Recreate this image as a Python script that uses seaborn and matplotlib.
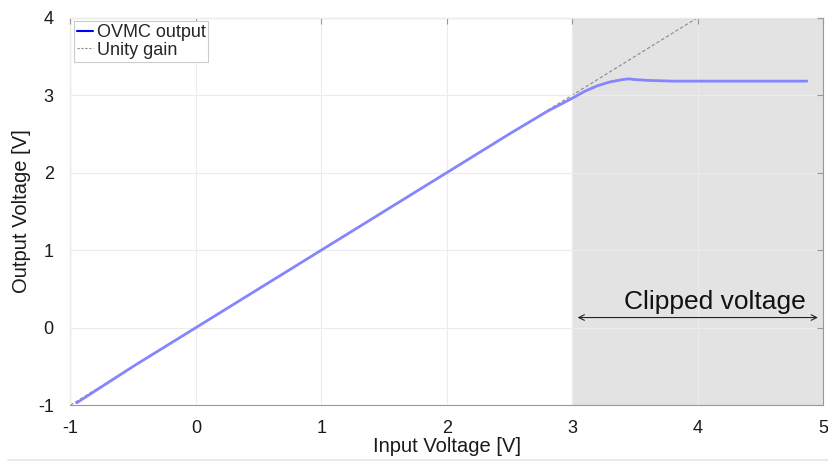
import matplotlib
matplotlib.use("Agg")
import matplotlib.pyplot as plt
import seaborn as sns
import pandas as pd
from matplotlib.lines import Line2D

# Data
vin = [-0.95, -0.5, 0.0, 0.5, 1.0, 1.5, 2.0, 2.5, 2.8, 3.0, 3.1, 3.2, 3.3, 3.4, 3.45, 3.5, 3.6, 3.8, 4.0, 4.5, 4.87]
vout = [-0.97, -0.5, 0.0, 0.5, 1.0, 1.5, 2.0, 2.5, 2.79, 2.96, 3.05, 3.12, 3.17, 3.2, 3.21, 3.2, 3.19, 3.18, 3.18, 3.18, 3.18]
unity_x = [-1.0, 4.0]
unity_y = [-1.0, 4.0]
clip_start, clip_end = 3.0, 5.0
xticks = [-1, 0, 1, 2, 3, 4, 5]
yticks = [-1, 0, 1, 2, 3, 4]

sns.set_style("white")
plt.rcParams['font.family'] = ['Liberation Sans', 'DejaVu Sans']

fig, ax = plt.subplots(figsize=(8.29, 4.63), dpi=100)
fig.subplots_adjust(left=0.085, right=0.993, top=0.962, bottom=0.125)

ax.axvspan(clip_start, clip_end, color='#e3e3e3', zorder=0, lw=0)

df_out = pd.DataFrame({'x': vin, 'y': vout})
df_unity = pd.DataFrame({'x': unity_x, 'y': unity_y})
sns.lineplot(data=df_unity, x='x', y='y', ax=ax, color='#888888', lw=0.8,
             linestyle=(0, (3, 2)), zorder=2)
sns.lineplot(data=df_out, x='x', y='y', ax=ax, color='#8585ff', lw=2.0, zorder=3)

ax.set_xlim(-1, 5)
ax.set_ylim(-1, 4)
ax.set_xticks(xticks)
ax.set_yticks(yticks)
ax.set_xticklabels([str(t) for t in xticks], fontsize=13)
ax.set_yticklabels([str(t) for t in yticks], fontsize=13)
ax.grid(True, color='#ececec', lw=0.8)
ax.set_axisbelow(False)
for s in ax.spines.values():
    s.set_color('#999999')
    s.set_linewidth(0.8)
ax.tick_params(direction='in', length=4, color='#999999', top=True, right=True,
               labelcolor='#1a1a1a')
ax.tick_params(axis='x', pad=11)
ax.tick_params(axis='y', pad=12)
ax.set_xlabel('Input Voltage [V]', fontsize=14.5, color='#1a1a1a', labelpad=0)
ax.set_ylabel('Output Voltage [V]', fontsize=14.5, color='#1a1a1a', labelpad=5)

ax.annotate('', xy=(clip_start + 0.02, 0.13), xytext=(clip_end - 0.02, 0.13),
            arrowprops=dict(arrowstyle='<->', color='#222222', lw=0.8))
ax.text(4.14, 0.24, 'Clipped voltage', fontsize=19, ha='center', va='baseline', color='#111111')

handles = [Line2D([0], [0], color='#0000ff', lw=1.5),
           Line2D([0], [0], color='#888888', lw=0.8, linestyle=(0, (2, 1.5)))]
leg = ax.legend(handles, ['OVMC output', 'Unity gain'], loc='upper left', fontsize=13,
                handlelength=0.9, handletextpad=0.2, borderpad=0.15, labelspacing=0.05,
                fancybox=False, framealpha=1, borderaxespad=0.2)
leg.get_frame().set_edgecolor('#cccccc')
leg.get_frame().set_linewidth(0.8)

fig.add_artist(Line2D([0.01, 1.0], [0.006, 0.006], color='#e6e6e6', lw=1.2, transform=fig.transFigure))

fig.savefig('out.png', dpi=100)
